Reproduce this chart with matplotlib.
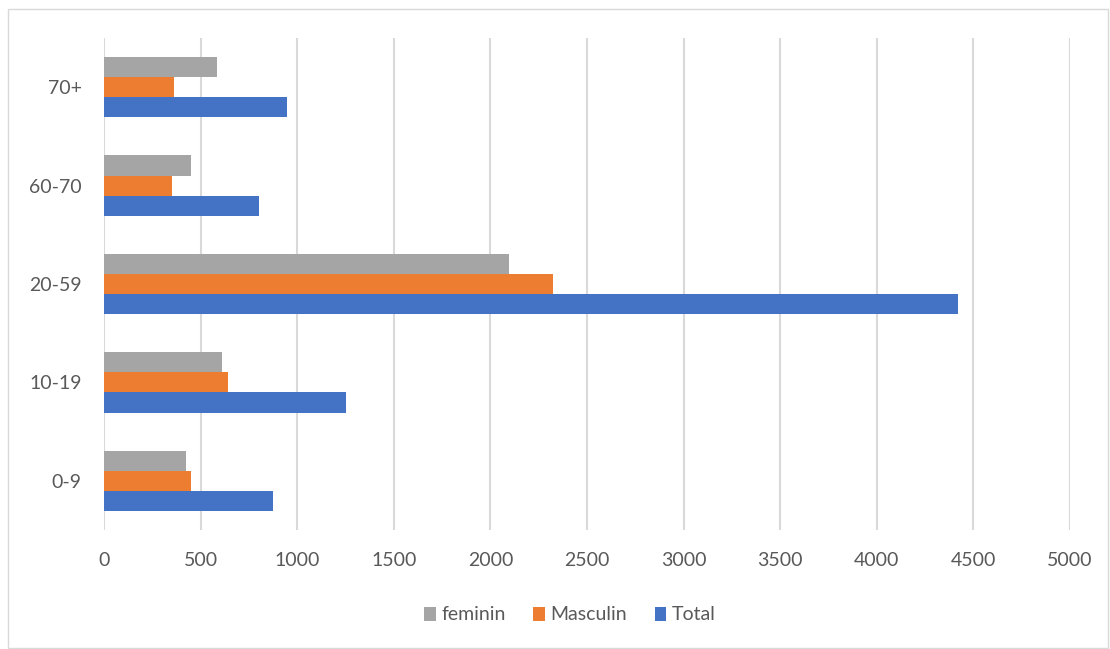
import numpy as np
import matplotlib
matplotlib.use("Agg")
import matplotlib.pyplot as plt
from matplotlib.patches import Rectangle

# data
categories = ["0-9", "10-19", "20-59", "60-70", "70+"]
feminin = [424, 611, 2095, 452, 585]
masculin = [450, 640, 2325, 354, 362]
total = [875, 1251, 4420, 804, 947]
xticks = [0, 500, 1000, 1500, 2000, 2500, 3000, 3500, 4000, 4500, 5000]

plt.rcParams['font.family'] = ['Lato', 'DejaVu Sans']

fig = plt.figure(figsize=(11.1, 6.49), dpi=100)
W, H = 1110, 649
ax = fig.add_axes([104 / W, 1 - 530 / H, (1070 - 104) / W, (530 - 38) / H])

y = np.arange(len(categories))
h = 0.205
ax.barh(y - h, total, height=h, color="#4472C4", label="Total")
ax.barh(y, masculin, height=h, color="#ED7D31", label="Masculin")
ax.barh(y + h, feminin, height=h, color="#A5A5A5", label="feminin")

ax.set_xlim(0, 5000)
ax.set_ylim(-0.5, len(categories) - 0.5)
ax.set_xticks(xticks)
ax.set_yticks(y)
ax.set_yticklabels(categories)
ax.grid(axis="x", color="#D9D9D9", linewidth=1.5)
ax.set_axisbelow(True)
for s in ax.spines.values():
    s.set_visible(False)
ax.tick_params(length=0, labelsize=14, colors="#595959")
ax.tick_params(axis="x", pad=16)
ax.tick_params(axis="y", pad=16)

handles, labels = ax.get_legend_handles_labels()
fig.legend(handles[::-1], labels[::-1], loc="center", bbox_to_anchor=(570 / W, 1 - 615 / H),
           ncol=3, frameon=False, fontsize=14, labelcolor="#595959",
           handlelength=0.6, handleheight=0.7, handletextpad=0.3, columnspacing=1.4)

fig.patches.append(Rectangle((8 / W, 1 - 648 / H), 1100 / W, 639 / H, transform=fig.transFigure,
                             fill=False, edgecolor="#D9D9D9", linewidth=1))

fig.savefig("out.png", dpi=100, facecolor="white")
